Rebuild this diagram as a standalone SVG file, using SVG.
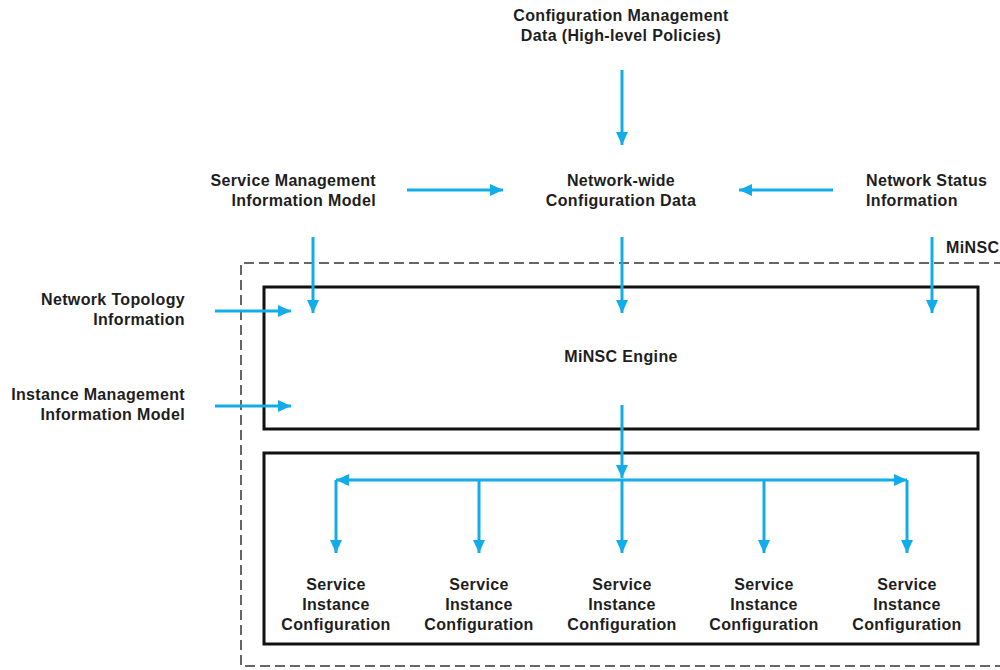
<svg xmlns="http://www.w3.org/2000/svg" width="1000" height="670" viewBox="0 0 1000 670">
  <style>
    text { font-family: "Liberation Sans", Arial, sans-serif; font-weight: bold; font-size: 16px; fill: #1e1e1e; letter-spacing: 0.35px; }
    .mid { text-anchor: middle; }
    .end { text-anchor: end; }
    .box { fill: none; stroke: #111; stroke-width: 3; }
    .frame { fill: none; stroke: #666; stroke-width: 2; stroke-dasharray: 10 5; }
    .flow { fill: none; stroke: #12ACEA; stroke-width: 3; }
    .arr { marker-end: url(#head); }
  </style>
  <defs>
    <marker id="head" markerUnits="userSpaceOnUse" markerWidth="14" markerHeight="14" viewBox="0 0 14 12" refX="13" refY="6" orient="auto-start-reverse">
      <path d="M0,0 L13,6 L0,12 Z" fill="#12ACEA"/>
    </marker>
  </defs>

  <rect width="1000" height="670" fill="#fff"/>

  <!-- MiNSC boundary -->
  <g id="minsc">
    <path class="frame" d="M1004,263 L241,263 L241,666 L1004,666"/>
    <text x="946" y="253">MiNSC</text>
  </g>

  <g id="engine">
    <rect class="box" x="264" y="287" width="714" height="142"/>
    <text class="mid" x="621" y="362">MiNSC Engine</text>
  </g>

  <g id="instances">
    <rect class="box" x="264" y="453" width="714" height="191"/>
  </g>

  <g id="cfg-mgmt">
    <text class="mid" x="621" y="21">Configuration Management</text>
    <text class="mid" x="621" y="41">Data (High-level Policies)</text>
  </g>

  <g id="svc-model">
    <text class="end" x="376" y="186">Service Management</text>
    <text class="end" x="376" y="206">Information Model</text>
  </g>

  <g id="nw-config">
    <text class="mid" x="621" y="186">Network-wide</text>
    <text class="mid" x="621" y="206">Configuration Data</text>
  </g>

  <g id="nw-status">
    <text x="866" y="186">Network Status</text>
    <text x="866" y="206">Information</text>
  </g>

  <g id="topology">
    <text class="end" x="185" y="305">Network Topology</text>
    <text class="end" x="185" y="325">Information</text>
  </g>

  <g id="inst-model">
    <text class="end" x="185" y="400">Instance Management</text>
    <text class="end" x="185" y="420">Information Model</text>
  </g>

  <g id="sic-1"><text class="mid" x="336" y="590">Service</text><text class="mid" x="336" y="610">Instance</text><text class="mid" x="336" y="630">Configuration</text></g>
  <g id="sic-2"><text class="mid" x="479" y="590">Service</text><text class="mid" x="479" y="610">Instance</text><text class="mid" x="479" y="630">Configuration</text></g>
  <g id="sic-3"><text class="mid" x="622" y="590">Service</text><text class="mid" x="622" y="610">Instance</text><text class="mid" x="622" y="630">Configuration</text></g>
  <g id="sic-4"><text class="mid" x="764" y="590">Service</text><text class="mid" x="764" y="610">Instance</text><text class="mid" x="764" y="630">Configuration</text></g>
  <g id="sic-5"><text class="mid" x="907" y="590">Service</text><text class="mid" x="907" y="610">Instance</text><text class="mid" x="907" y="630">Configuration</text></g>

  <g id="connectors">
    <line class="flow arr" x1="622" y1="70" x2="622" y2="145"/>
    <line class="flow arr" x1="407" y1="190" x2="503" y2="190"/>
    <line class="flow arr" x1="833" y1="190" x2="739" y2="190"/>
    <line class="flow arr" x1="313" y1="237" x2="313" y2="313"/>
    <line class="flow arr" x1="622" y1="237" x2="622" y2="313"/>
    <line class="flow arr" x1="932" y1="237" x2="932" y2="313"/>
    <line class="flow arr" x1="215" y1="311" x2="291" y2="311"/>
    <line class="flow arr" x1="215" y1="406" x2="291" y2="406"/>
    <line class="flow arr" x1="622" y1="405" x2="622" y2="478"/>
    <line class="flow" x1="336" y1="480" x2="907" y2="480" marker-start="url(#head)" marker-end="url(#head)"/>
    <line class="flow arr" x1="336" y1="480" x2="336" y2="553"/>
    <line class="flow arr" x1="479" y1="480" x2="479" y2="553"/>
    <line class="flow arr" x1="622" y1="480" x2="622" y2="553"/>
    <line class="flow arr" x1="764" y1="480" x2="764" y2="553"/>
    <line class="flow arr" x1="907" y1="480" x2="907" y2="553"/>
  </g>
</svg>
